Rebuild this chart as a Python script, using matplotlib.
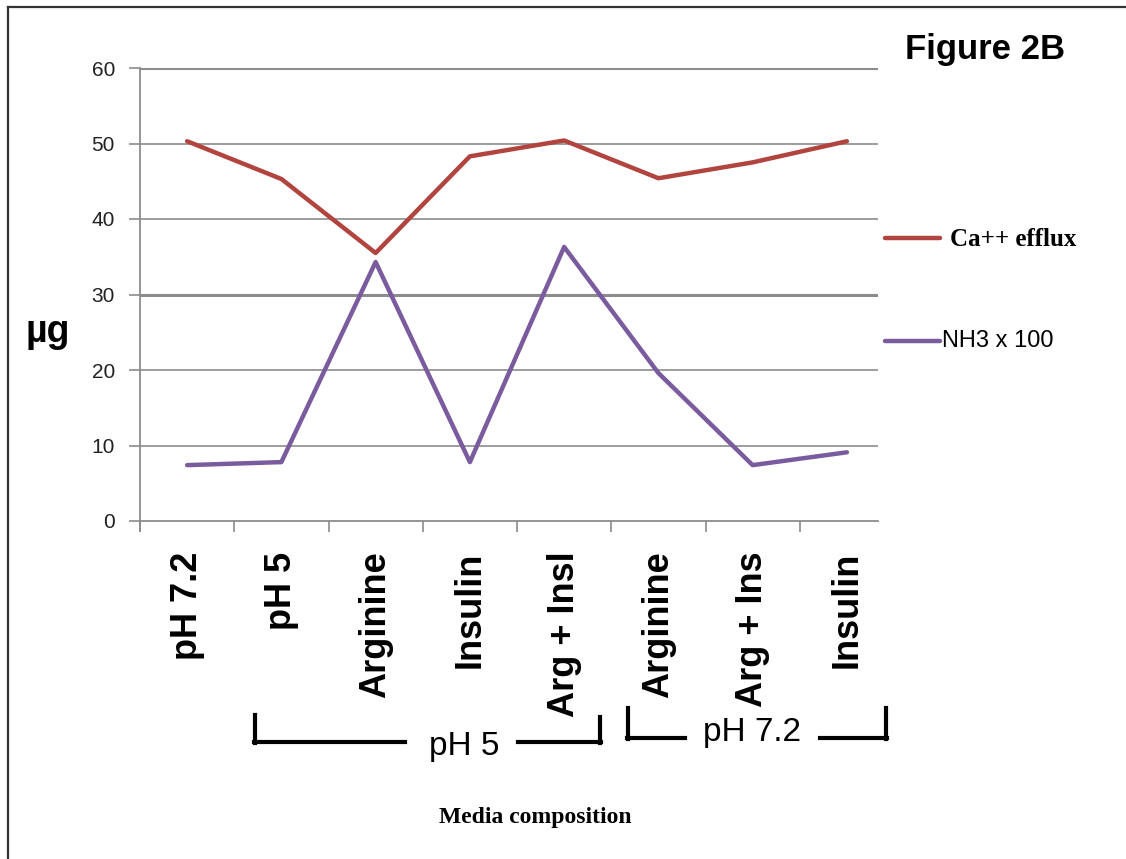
import matplotlib
matplotlib.use("Agg")
import matplotlib.pyplot as plt
from matplotlib.lines import Line2D

plt.rcParams['font.family'] = ['Liberation Sans', 'DejaVu Sans']

# data
categories = ['pH 7.2', 'pH 5', 'Arginine', 'Insulin', 'Arg + Insl',
              'Arginine', 'Arg + Ins', 'Insulin']
ca_efflux = [50.3, 45.3, 35.5, 48.3, 50.4, 45.4, 47.5, 50.3]
nh3_x100 = [7.4, 7.8, 34.3, 7.8, 36.3, 19.6, 7.4, 9.1]
y_ticks = [0, 10, 20, 30, 40, 50, 60]

red = '#B2443F'
purple = '#7A5C9E'
grid_col = '#8C8C8C'

W, H = 1126, 859
fig = plt.figure(figsize=(W / 100, H / 100), dpi=100)
ax = fig.add_axes([140 / W, 1 - 521 / H, (878 - 140) / W, (521 - 68) / H])

x = list(range(len(categories)))
ax.plot(x, ca_efflux, color=red, lw=3.2, solid_capstyle='round', zorder=3)
ax.plot(x, nh3_x100, color=purple, lw=3.2, solid_capstyle='round', zorder=3)

ax.set_xlim(-0.5, 7.33)
ax.set_ylim(0, 60)

# horizontal gridlines, the 30 and 60 lines look heavier
for yv in y_ticks[1:]:
    lw = 2.2 if yv in (30, 60) else 1.2
    ax.axhline(yv, color=grid_col, lw=lw, zorder=1)

for side in ['top', 'right']:
    ax.spines[side].set_visible(False)
ax.spines['left'].set_color(grid_col)
ax.spines['left'].set_linewidth(1.3)
ax.spines['left'].set_bounds(-1.3, 60)
ax.spines['bottom'].set_color(grid_col)
ax.spines['bottom'].set_linewidth(1.3)

ax.set_yticks(y_ticks)
ax.tick_params(axis='y', length=8, width=1.2, color=grid_col, pad=10,
               labelsize=15, labelcolor='#222222')

# category boundary ticks, labels at centres
ax.set_xticks([i - 0.5 for i in x])
ax.set_xticklabels([])
ax.tick_params(axis='x', which='major', length=8, width=1.2, color=grid_col,
               direction='out')
ax.set_xticks(x, minor=True)
ax.set_xticklabels(categories, minor=True, rotation=90, fontsize=26,
                   fontweight='bold', va='top', ha='center')
ax.tick_params(axis='x', which='minor', length=0, pad=22)

fig.text(25 / W, 1 - 332 / H, 'µg', fontsize=27, fontweight='bold',
         va='center', ha='left')

fig.text(985 / W, 1 - 50 / H, 'Figure 2B', fontsize=25, fontweight='bold',
         ha='center', va='center')

# legend drawn by hand
fig.add_artist(Line2D([885 / W, 940 / W], [1 - 238 / H, 1 - 238 / H],
                      color=red, lw=3.2, solid_capstyle='round'))
fig.text(950 / W, 1 - 239 / H, 'Ca++ efflux', fontsize=18, fontweight='bold',
         family=['Liberation Serif', 'DejaVu Serif'], va='center', ha='left')
fig.add_artist(Line2D([885 / W, 940 / W], [1 - 341 / H, 1 - 341 / H],
                      color=purple, lw=3.2, solid_capstyle='round'))
fig.text(942 / W, 1 - 341 / H, 'NH3 x 100', fontsize=17,
         va='center', ha='left')

# group brackets below the axis
def hline(x0, x1, y):
    fig.add_artist(Line2D([x0 / W, x1 / W], [1 - y / H, 1 - y / H],
                          color='black', lw=3))

def vline(xp, y0, y1):
    fig.add_artist(Line2D([xp / W, xp / W], [1 - y0 / H, 1 - y1 / H],
                          color='black', lw=3))

vline(255, 715, 743)
hline(254, 405, 742)
hline(518, 601, 742)
vline(600, 717, 743)
fig.text(464 / W, 1 - 747 / H, 'pH 5', fontsize=24, ha='center', va='center')

vline(628, 708, 739)
hline(627, 685, 738)
hline(820, 887, 738)
vline(886, 708, 739)
fig.text(752 / W, 1 - 733 / H, 'pH 7.2', fontsize=24, ha='center', va='center')

fig.text(535 / W, 1 - 817 / H, 'Media composition', fontsize=17,
         fontweight='bold', family=['Liberation Serif', 'DejaVu Serif'],
         ha='center', va='center')

# frame lines at left and top of the picture
fig.add_artist(Line2D([8 / W, 8 / W], [0, 1 - 7 / H], color='#333333', lw=1.6))
fig.add_artist(Line2D([8 / W, 1], [1 - 7 / H, 1 - 7 / H], color='#333333', lw=1.6))

fig.savefig('out.png', dpi=100)
